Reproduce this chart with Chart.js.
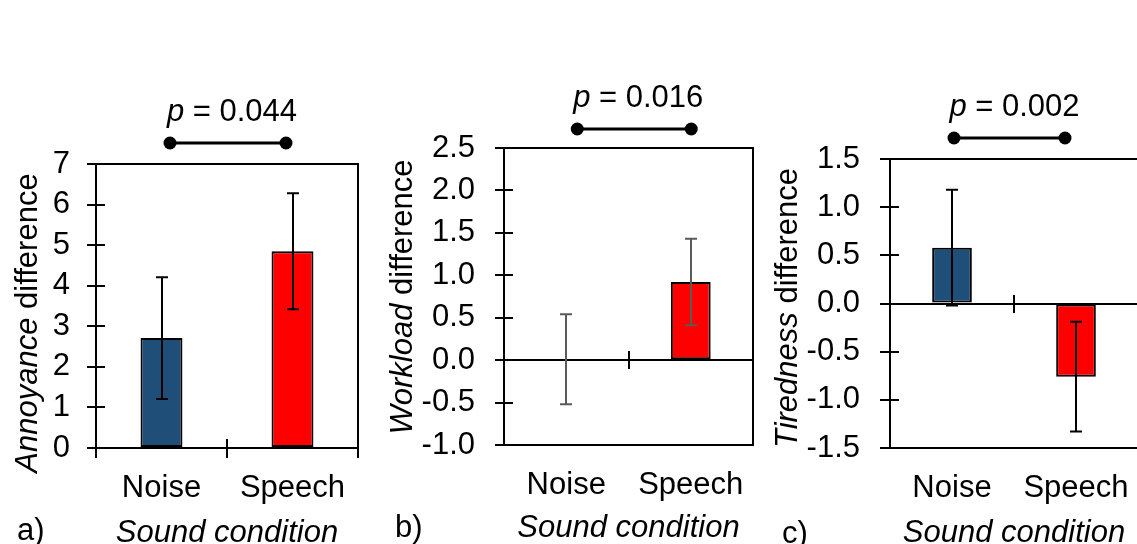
<!DOCTYPE html>
<html>
<head>
<meta charset="utf-8">
<script src="https://cdn.jsdelivr.net/npm/chart.js@4.4.0/dist/chart.umd.min.js"></script>
<style>
html, body { margin: 0; padding: 0; background: #fff; overflow: hidden; width: 1137px; height: 544px; }
canvas { position: absolute; top: 0; }
</style>
</head>
<body>
<canvas id="chartA" width="380" height="560" style="left:0px"></canvas>
<canvas id="chartB" width="380" height="560" style="left:380px"></canvas>
<canvas id="chartC" width="378" height="560" style="left:760px"></canvas>
<script>
const categories = ['Noise', 'Speech'];
const barColors = ['#1f4e79', '#ff0000'];

const annoyanceMean = [2.71, 4.85];
const annoyanceErr = [1.50, 1.43];
const annoyanceTicks = [0, 1, 2, 3, 4, 5, 6, 7];

const workloadMean = [0.01, 0.92];
const workloadErr = [0.53, 0.51];
const workloadTicks = [-1.0, -0.5, 0.0, 0.5, 1.0, 1.5, 2.0, 2.5];

const tirednessMean = [0.58, -0.76];
const tirednessErr = [0.60, 0.57];
const tirednessTicks = [-1.5, -1.0, -0.5, 0.0, 0.5, 1.0, 1.5];

const pValues = ['0.044', '0.016', '0.002'];
const panelLetters = ['a)', 'b)', 'c)'];
const yTitles = [['Annoyance', ' difference'], ['Workload', ' difference'], ['Tiredness', ' difference']];
const xTitle = 'Sound condition';

const FONT = "'Liberation Sans', Arial, sans-serif";
const FS = 31;
const H = 560;

// layout per panel (pixels inside each canvas)
const panels = [
    { id: 'chartA', mean: annoyanceMean, err: annoyanceErr, ticks: annoyanceTicks, decimals: 0,
      p: pValues[0], letter: panelLetters[0], yTitle: yTitles[0], errColor: '#000',
      left: 96, top: 164, right: 22, bottom: 448, tickPad: 17, yTickOut: 9,
      xTicks: true, xPad: 11.5, titlePad: 8.4,
      yTitleX: 37, yTitleY: 323, letterX: 17, letterY: 531, bracket: [8.5, -6.5, 21], pShift: 4 },
    { id: 'chartB', mean: workloadMean, err: workloadErr, ticks: workloadTicks, decimals: 1,
      p: pValues[1], letter: panelLetters[1], yTitle: yTitles[1], errColor: '#5a5a5a',
      left: 124, top: 148, right: 7, bottom: 445, tickPad: 20, yTickOut: 9,
      xTicks: false, xPad: 11.4, titlePad: 13.4,
      yTitleX: 32, yTitleY: 297, letterX: 15, letterY: 528, bracket: [11, 0.5, 19], pShift: 4 },
    { id: 'chartC', mean: tirednessMean, err: tirednessErr, ticks: tirednessTicks, decimals: 1,
      p: pValues[2], letter: panelLetters[2], yTitle: yTitles[2], errColor: '#000',
      left: 130, top: 159, right: 0, bottom: 448, tickPad: 20, yTickOut: 10,
      xTicks: false, xPad: 11.4, titlePad: 8.4,
      yTitleX: 37, yTitleY: 308, letterX: 22, letterY: 534, bracket: [2, -11, 21], pShift: 5 }
];

const panelDecor = {
    id: 'panelDecor',
    beforeDatasetsDraw(chart, args, opts) {
        const pn = opts.panel;
        const { ctx, chartArea: { left, right, top, bottom }, scales: { x, y } } = chart;
        ctx.save();
        ctx.strokeStyle = '#000';
        ctx.lineWidth = 2;
        // frame
        ctx.beginPath();
        ctx.moveTo(left, top);
        ctx.lineTo(right, top);
        ctx.lineTo(right, bottom);
        ctx.stroke();
        // inner half of y ticks
        ctx.beginPath();
        pn.ticks.forEach(v => {
            const py = Math.round(y.getPixelForValue(v));
            ctx.moveTo(left, py);
            ctx.lineTo(left + 9, py);
        });
        ctx.stroke();
        // zero line with middle tick
        const y0 = Math.round(y.getPixelForValue(0));
        const xm = Math.round((x.getPixelForValue(0) + x.getPixelForValue(1)) / 2);
        ctx.beginPath();
        ctx.moveTo(left, y0);
        ctx.lineTo(right, y0);
        ctx.moveTo(xm, y0 - 9);
        ctx.lineTo(xm, y0 + 9);
        ctx.stroke();
        ctx.restore();
    },
    afterDatasetsDraw(chart, args, opts) {
        const pn = opts.panel;
        const { ctx, chartArea: { top }, scales: { x, y } } = chart;
        ctx.save();
        // error bars
        ctx.strokeStyle = pn.errColor;
        ctx.lineWidth = 2;
        chart.getDatasetMeta(0).data.forEach((bar, i) => {
            const xc = Math.round(bar.x);
            const yHi = y.getPixelForValue(pn.mean[i] + pn.err[i]);
            const yLo = y.getPixelForValue(pn.mean[i] - pn.err[i]);
            ctx.beginPath();
            ctx.moveTo(xc, yHi); ctx.lineTo(xc, yLo);
            ctx.moveTo(xc - 6, yHi); ctx.lineTo(xc + 6, yHi);
            ctx.moveTo(xc - 6, yLo); ctx.lineTo(xc + 6, yLo);
            ctx.stroke();
        });

        // significance bracket
        const x1 = x.getPixelForValue(0) + pn.bracket[0];
        const x2 = x.getPixelForValue(1) + pn.bracket[1];
        const by = top - pn.bracket[2];
        ctx.strokeStyle = '#000';
        ctx.fillStyle = '#000';
        ctx.lineWidth = 3;
        ctx.beginPath();
        ctx.moveTo(x1, by); ctx.lineTo(x2, by);
        ctx.stroke();
        [x1, x2].forEach(px => {
            ctx.beginPath();
            ctx.arc(px, by, 6.5, 0, Math.PI * 2);
            ctx.fill();
        });

        // p value text
        ctx.textBaseline = 'alphabetic';
        ctx.textAlign = 'left';
        ctx.font = 'italic ' + FS + 'px ' + FONT;
        const wP = ctx.measureText('p').width;
        ctx.font = FS + 'px ' + FONT;
        const rest = ' = ' + pn.p;
        const wR = ctx.measureText(rest).width;
        const cx = (x1 + x2) / 2 + pn.pShift;
        const sx = cx - (wP + wR) / 2;
        ctx.font = 'italic ' + FS + 'px ' + FONT;
        ctx.fillText('p', sx, by - 22);
        ctx.font = FS + 'px ' + FONT;
        ctx.fillText(rest, sx + wP, by - 22);

        // y axis title (italic word + plain word)
        ctx.save();
        ctx.translate(pn.yTitleX, pn.yTitleY);
        ctx.rotate(-Math.PI / 2);
        ctx.font = 'italic ' + FS + 'px ' + FONT;
        const w1 = ctx.measureText(pn.yTitle[0]).width;
        ctx.font = FS + 'px ' + FONT;
        const w2 = ctx.measureText(pn.yTitle[1]).width;
        ctx.font = 'italic ' + FS + 'px ' + FONT;
        ctx.fillText(pn.yTitle[0], -(w1 + w2) / 2, 0);
        ctx.font = FS + 'px ' + FONT;
        ctx.fillText(pn.yTitle[1], -(w1 + w2) / 2 + w1, 0);
        ctx.restore();

        // panel letter
        ctx.font = FS + 'px ' + FONT;
        ctx.textBaseline = 'middle';
        ctx.fillText(pn.letter, pn.letterX, pn.letterY);
        ctx.restore();
    }
};

function drawPanel(pn) {
    const el = document.getElementById(pn.id);
    return new Chart(el, {
        type: 'bar',
        data: {
            labels: categories,
            datasets: [{
                data: pn.mean,
                backgroundColor: barColors,
                borderColor: '#000',
                borderWidth: 2,
                borderSkipped: false,
                barPercentage: 0.32,
                categoryPercentage: 1
            }]
        },
        options: {
            responsive: false,
            animation: false,
            devicePixelRatio: 1,
            layout: { padding: { left: 0, top: pn.top, right: pn.right, bottom: 0 } },
            plugins: {
                legend: { display: false },
                tooltip: { enabled: false },
                panelDecor: { panel: pn }
            },
            scales: {
                x: {
                    offset: true,
                    grid: {
                        display: pn.xTicks, drawOnChartArea: false, offset: true,
                        tickLength: 10, color: '#000', lineWidth: 2
                    },
                    border: { display: true, color: '#000', width: 2 },
                    ticks: { color: '#000', font: { family: FONT, size: FS }, padding: pn.xPad, maxRotation: 0 },
                    title: {
                        display: true, text: xTitle, color: '#000',
                        font: { family: FONT, size: FS, style: 'italic' },
                        padding: { top: 0, bottom: pn.titlePad }
                    },
                    afterFit(s) {
                        s.height = H - pn.bottom;
                        s.paddingLeft = 0;
                        s.paddingRight = 0;
                    }
                },
                y: {
                    min: pn.ticks[0],
                    max: pn.ticks[pn.ticks.length - 1],
                    afterBuildTicks(s) { s.ticks = pn.ticks.map(v => ({ value: v })); },
                    grid: { drawOnChartArea: false, tickLength: pn.yTickOut, color: '#000', lineWidth: 2 },
                    border: { display: true, color: '#000', width: 2 },
                    ticks: {
                        color: '#000', font: { family: FONT, size: FS }, padding: pn.tickPad,
                        callback: v => Number(v).toFixed(pn.decimals)
                    },
                    afterFit(s) { s.width = pn.left; }
                }
            }
        },
        plugins: [panelDecor]
    });
}

panels.forEach(drawPanel);
</script>
</body>
</html>
